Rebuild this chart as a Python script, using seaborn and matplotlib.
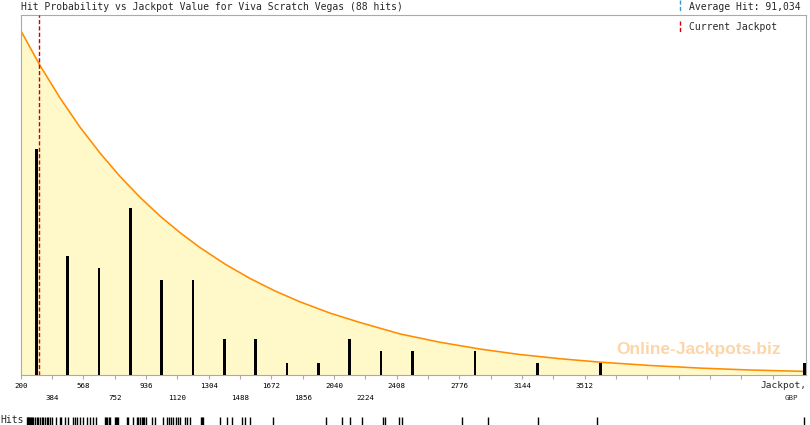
import matplotlib
matplotlib.use("Agg")
import matplotlib.pyplot as plt
from matplotlib.lines import Line2D
from matplotlib.transforms import blended_transform_factory
import seaborn as sns

# ---------------- data ----------------
title = "Hit Probability vs Jackpot Value for Viva Scratch Vegas (88 hits)"
average_hit_label = "Average Hit: 91,034"
current_label = "Current Jackpot"
current_jackpot = 309

tick_values = [200 + 184 * k for k in range(25)]
shown_labels = ["200", "384", "568", "752", "936", "1120", "1304", "1488", "1672",
                "1856", "2040", "2224", "2408", "", "2776", "", "3144", "", "3512"]

bar_centres = [292, 476, 660, 844, 1028, 1212, 1396, 1580, 1764, 1948, 2132,
               2316, 2500, 2868, 3236, 3604, 4805]
bar_counts = [19, 10, 9, 14, 8, 8, 3, 3, 1, 1, 3, 2, 2, 2, 1, 1, 1]

curve_x = [202, 313, 431, 548, 666, 783, 901, 1018, 1136, 1253, 1400, 1547,
           1694, 1840, 2017, 2193, 2428, 2663, 2898, 3132, 3367, 3602, 3896,
           4190, 4483, 4812]
curve_y = [28.9, 26.02, 23.28, 20.83, 18.65, 16.69, 14.93, 13.36, 11.96, 10.71,
           9.32, 8.11, 7.06, 6.15, 5.20, 4.41, 3.45, 2.75, 2.18, 1.72, 1.37,
           1.08, 0.80, 0.58, 0.42, 0.30]

hits = [237, 240, 243, 249, 255, 260, 266, 272, 284, 294, 303, 313, 323, 333,
        343, 352, 362, 372, 382,
        407, 431, 437, 460, 476, 509, 519, 532, 548, 566,
        591, 607, 626, 640, 695, 701, 707, 716, 724,
        754, 760, 766, 771, 823, 828, 861, 881, 891, 901, 912, 918, 927, 933,
        969, 989, 1037, 1057, 1073, 1083, 1096, 1112,
        1126, 1136, 1165, 1178, 1194, 1257, 1265, 1271,
        1370, 1410, 1441,
        1498, 1518, 1547,
        1682, 1993, 2085, 2134, 2203, 2326, 2339, 2424, 2441,
        2791, 2946, 3236, 3583, 4802]

# ---------------- style ----------------
sns.set_style("white")
plt.rcParams["font.family"] = ["DejaVu Sans Mono", "DejaVu Sans"]

W, H = 810, 425
fig = plt.figure(figsize=(W / 100, H / 100), dpi=100)
fig.patch.set_facecolor("white")

left_px, right_px, top_px, bot_px = 20.7, 806, 15, 375
ax = fig.add_axes([left_px / W, 1 - bot_px / H,
                   (right_px - left_px) / W, (bot_px - top_px) / H])
ax.set_facecolor("white")
ax.set_xlim(200, 4812)
ax.set_ylim(0, (bot_px - top_px) / 11.9)

grey = "#AAAAAA"
for s in ax.spines.values():
    s.set_color(grey)
    s.set_linewidth(0.8)
    s.set_visible(True)

ax.fill_between(curve_x, curve_y, 0, color="#FFF9C9", zorder=1, lw=0)
sns.lineplot(x=curve_x, y=curve_y, ax=ax, color="#FF8C00", lw=1.15,
             sort=False, estimator=None, zorder=2)
ax.bar(bar_centres, bar_counts, width=17, color="black", zorder=3, lw=0)
ax.axvline(current_jackpot, color="#CC0000", lw=1.0, ls=(0, (3, 1.6)), zorder=4)

ax.text(0.8637, 0.072, "Online-Jackpots.biz", transform=ax.transAxes,
        ha="center", va="center", fontsize=12.5, fontweight="bold",
        family="Liberation Sans", color="#FCD6A8", zorder=2.5)

ax.set_yticks([])
ax.set_xticks(tick_values)
ax.set_xticklabels([])
ax.tick_params(axis="x", direction="out", length=3, width=0.8, color=grey,
               bottom=True)
ax.set_xlabel("")
ax.set_ylabel("")

trans = blended_transform_factory(ax.transData, ax.transAxes)
row1 = -(385.8 - bot_px) / (bot_px - top_px)
row2 = -(398 - bot_px) / (bot_px - top_px)
for i, lab in enumerate(shown_labels):
    if not lab:
        continue
    ax.text(tick_values[i], row1 if i % 2 == 0 else row2, lab, transform=trans,
            ha="center", va="center", fontsize=5.4, color="black")
ax.text(1.0, row1, "Jackpot,", transform=ax.transAxes, ha="right", va="center",
        fontsize=6.8)
ax.text((798 - left_px) / (right_px - left_px), row2, "GBP", transform=ax.transAxes,
        ha="right", va="center", fontsize=5.4)

# title & legend
fig.text(left_px / W, 1 - 7.5 / H, title, ha="left", va="center", fontsize=7)
fig.text(689 / W, 1 - 6.7 / H, average_hit_label, ha="left", va="center", fontsize=7)
fig.text(689 / W, 1 - 26.7 / H, current_label, ha="left", va="center", fontsize=7)
fig.add_artist(Line2D([679.7 / W] * 2, [1 - 0 / H, 1 - 12 / H],
                      transform=fig.transFigure, color="#3399CC", lw=1.0,
                      ls=(0, (3, 1.6))))
fig.add_artist(Line2D([679.7 / W] * 2, [1 - 20.7 / H, 1 - 33.3 / H],
                      transform=fig.transFigure, color="#CC0000", lw=1.0,
                      ls=(0, (3, 1.6))))

# hits rug
rax = fig.add_axes([left_px / W, 0, (right_px - left_px) / W, 8 / H])
rax.set_xlim(200, 4812)
rax.set_ylim(0, 1)
sns.rugplot(x=hits, ax=rax, height=1, color="black", lw=0.9, expand_margins=False)
rax.axis("off")
fig.text(0, 1 - 420 / H, "Hits", ha="left", va="center", fontsize=7)

fig.savefig("out.png", dpi=100, facecolor="white")
